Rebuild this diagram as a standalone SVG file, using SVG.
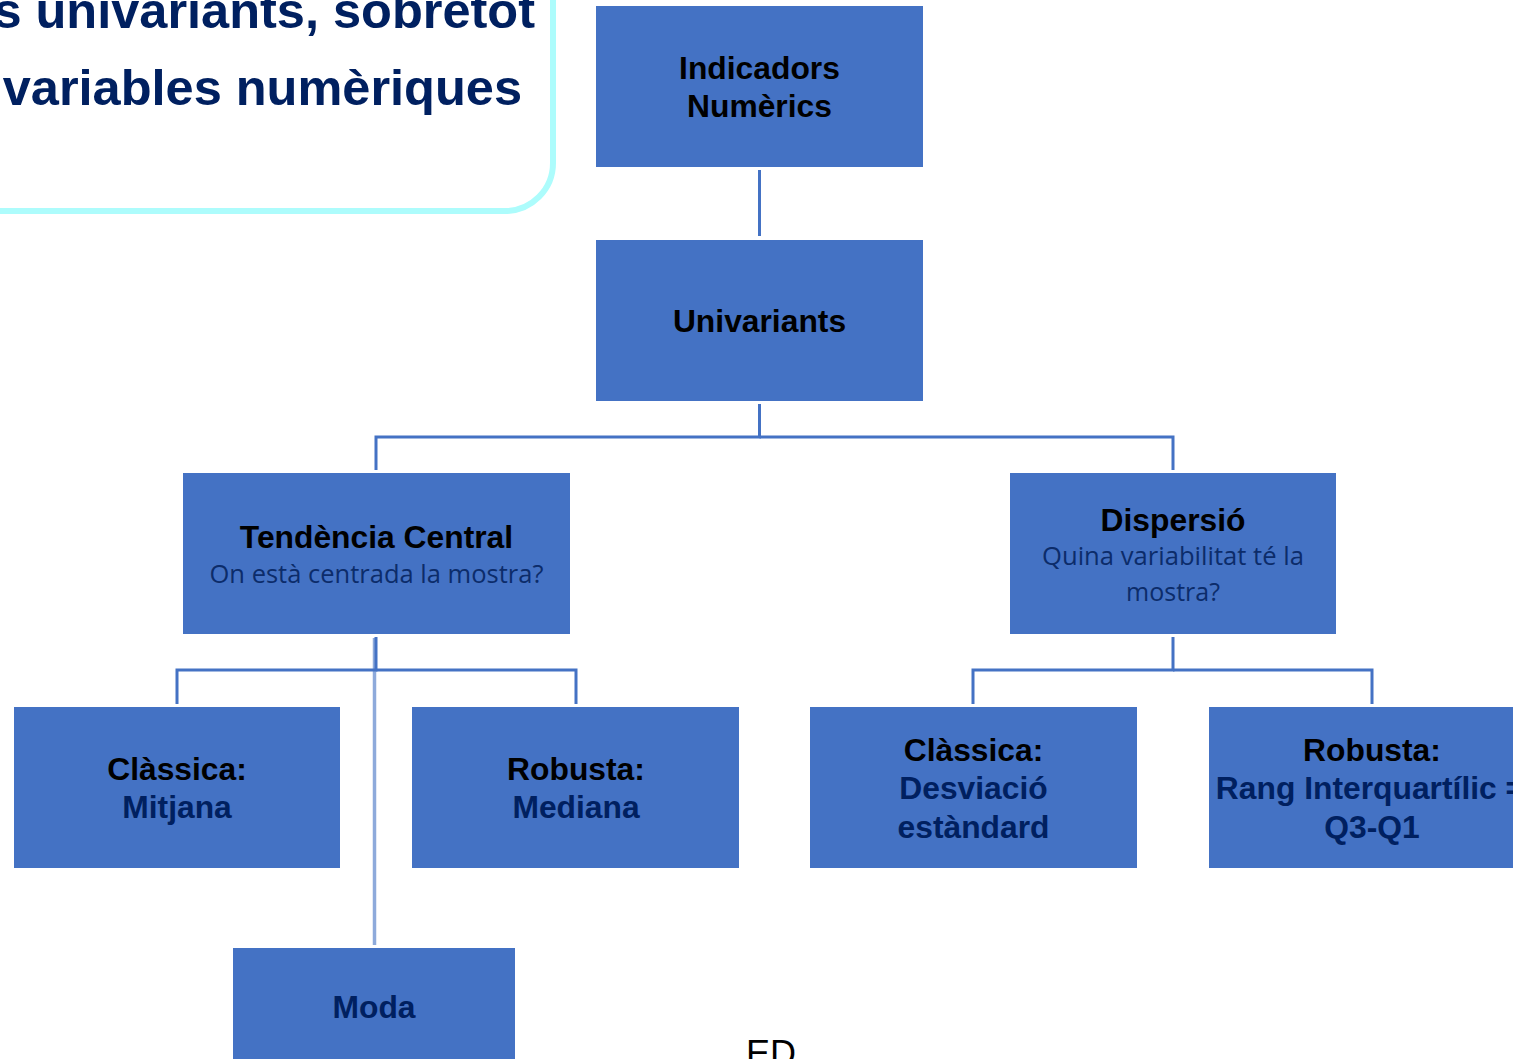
<svg xmlns="http://www.w3.org/2000/svg" width="1513" height="1059" viewBox="0 0 1513 1059">
  <style>
    .box { fill: #4472c4; }
    .link { fill: none; stroke: #4472c4; stroke-width: 3; }
    .link-light { fill: none; stroke: #8eaadb; stroke-width: 3.5; }
    .title { font-family: "Liberation Sans", Arial, sans-serif; font-weight: bold; font-size: 31.8px; fill: #000000; text-anchor: middle; }
    .value { font-family: "Liberation Sans", Arial, sans-serif; font-weight: bold; font-size: 31.8px; fill: #002060; text-anchor: middle; }
    .question { font-family: "Open Sans", "Noto Sans", sans-serif; font-size: 25px; fill: #0c2c6a; text-anchor: middle; }
    .callout-text { font-family: "Liberation Sans", Arial, sans-serif; font-weight: bold; font-size: 50.5px; fill: #002060; text-anchor: end; }
  </style>

  <rect width="1513" height="1059" fill="#ffffff"/>

  <!-- heading callout, partly off the page -->
  <g id="callout">
    <rect x="-120" y="-120" width="673" height="331" rx="48" ry="48" fill="none" stroke="#adfcfc" stroke-width="6"/>
    <text class="callout-text" x="535" y="28">s univariants, sobretot</text>
    <text class="callout-text" x="522" y="105">variables numèriques</text>
  </g>

  <!-- tree connectors -->
  <g id="connectors">
    <line class="link" x1="759.5" y1="170" x2="759.5" y2="236"/>
    <polyline class="link" points="759.5,404 759.5,437 376,437 376,470"/>
    <polyline class="link" points="759.5,437 1173,437 1173,470"/>
    <line class="link-light" x1="374.5" y1="638" x2="374.5" y2="945"/>
    <polyline class="link" points="376,637 376,670 177,670 177,704"/>
    <polyline class="link" points="376,670 576,670 576,704"/>
    <polyline class="link" points="1173,637 1173,670 973,670 973,704"/>
    <polyline class="link" points="1173,670 1372,670 1372,704"/>
  </g>

  <g id="node-indicadors">
    <rect class="box" x="596" y="6" width="327" height="161"/>
    <text class="title" x="759.5" y="79">Indicadors</text>
    <text class="title" x="759.5" y="117">Numèrics</text>
  </g>

  <g id="node-univariants">
    <rect class="box" x="596" y="240" width="327" height="161"/>
    <text class="title" x="759.5" y="332">Univariants</text>
  </g>

  <g id="node-tendencia">
    <rect class="box" x="183" y="473" width="387" height="161"/>
    <text class="title" x="376.5" y="548">Tendència Central</text>
    <text class="question" x="376.5" y="583" textLength="334" lengthAdjust="spacingAndGlyphs">On està centrada la mostra?</text>
  </g>

  <g id="node-dispersio">
    <rect class="box" x="1010" y="473" width="326" height="161"/>
    <text class="title" x="1173" y="531">Dispersió</text>
    <text class="question" x="1173" y="565" textLength="262" lengthAdjust="spacingAndGlyphs">Quina variabilitat té la</text>
    <text class="question" x="1173" y="601">mostra?</text>
  </g>

  <g id="node-mitjana">
    <rect class="box" x="14" y="707" width="326" height="161"/>
    <text class="title" x="177" y="780">Clàssica:</text>
    <text class="value" x="177" y="818">Mitjana</text>
  </g>

  <g id="node-mediana">
    <rect class="box" x="412" y="707" width="327" height="161"/>
    <text class="title" x="576" y="780">Robusta:</text>
    <text class="value" x="576" y="818">Mediana</text>
  </g>

  <g id="node-desviacio">
    <rect class="box" x="810" y="707" width="327" height="161"/>
    <text class="title" x="973.5" y="761">Clàssica:</text>
    <text class="value" x="973.5" y="799">Desviació</text>
    <text class="value" x="973.5" y="838">estàndard</text>
  </g>

  <g id="node-rang">
    <rect class="box" x="1209" y="707" width="326" height="161"/>
    <text class="title" x="1372" y="761">Robusta:</text>
    <text class="value" x="1370" y="799">Rang Interquartílic =</text>
    <text class="value" x="1372" y="838">Q3-Q1</text>
  </g>

  <g id="node-moda">
    <rect class="box" x="233" y="948" width="282" height="130"/>
    <text class="value" x="374" y="1018">Moda</text>
  </g>

  <!-- footer mark, cut by the page edge -->
  <text x="746" y="1066" font-family="Liberation Sans, Arial, sans-serif" font-size="36" fill="#000000">ED</text>
</svg>
